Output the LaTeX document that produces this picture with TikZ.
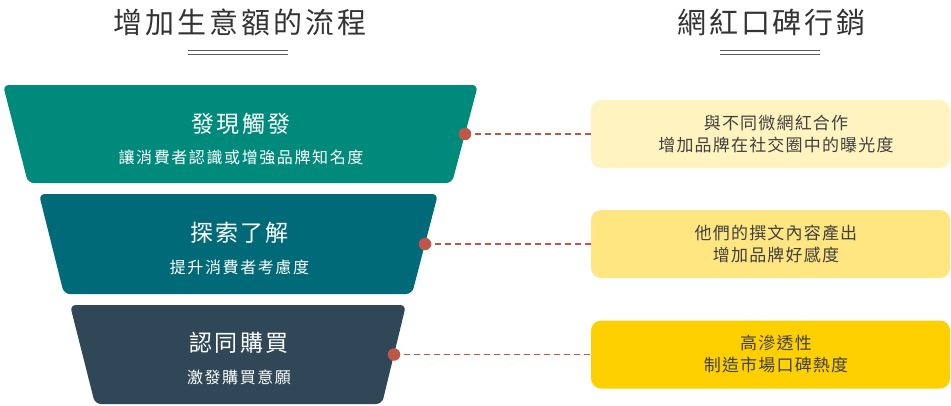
\documentclass[tikz,border=0pt]{standalone}
\usepackage{fontspec}
\newfontfamily\cjk[LetterSpace=7]{Noto Sans CJK TC}
\newfontfamily\cjkwide[LetterSpace=10]{Noto Sans CJK TC}
\usetikzlibrary{positioning}
\definecolor{stageA}{RGB}{0,138,124}
\definecolor{stageB}{RGB}{0,106,120}
\definecolor{stageC}{RGB}{48,71,87}
\definecolor{dotred}{RGB}{192,86,72}
\definecolor{noteA}{RGB}{255,243,191}
\definecolor{noteB}{RGB}{255,230,128}
\definecolor{noteC}{RGB}{255,208,0}
\definecolor{inkgray}{RGB}{64,64,64}
\definecolor{headgray}{RGB}{51,51,51}
\newcommand{\noteindent}{\hspace*{11pt}}

\begin{document}
\begin{tikzpicture}[x=1pt, y=-1pt, every node/.style={inner sep=0pt},
  head/.style={font=\cjkwide\fontsize{29}{29}\selectfont, text=headgray},
  rule/.style={draw=headgray!80, line width=0.9pt},
  stage/.style={font=\cjkwide\fontsize{23}{23}\selectfont, text=white},
  stagesub/.style={font=\cjkwide\fontsize{16}{16}\selectfont, text=white},
  note/.style={rounded corners=10pt, minimum width=359pt, minimum height=68pt, align=center,
    font=\cjk\fontsize{17}{22}\selectfont, text=inkgray},
  dot/.style={circle, fill=dotred, minimum size=12.5pt},
  link/.style={dotred, line width=1.4pt, dash pattern=on 6pt off 4pt}]
\useasboundingbox (0,0) rectangle (951,405);
% titles
\node[head] (lefthead) at (240,22) {增加生意額的流程};
\node[head] (righthead) at (771.5,22) {網紅口碑行銷};
\draw[rule] (188,50) -- (288,50) (188,54) -- (288,54);
\draw[rule] (720,50) -- (820,50) (720,54) -- (820,54);
% funnel
\fill[stageA, rounded corners=6pt] (3,85) -- (478,85) -- (452,183) -- (28,183) -- cycle;
\fill[stageB, rounded corners=6pt] (39,194) -- (438,194) -- (412,294) -- (64,294) -- cycle;
\fill[stageC, rounded corners=6pt] (70,305) -- (406,305) -- (382,404) -- (95,404) -- cycle;
\node[stage] (s1) at (241,124) {發現觸發};
\node[stagesub] (s1sub) at (241,157) {讓消費者認識或增強品牌知名度};
\node[stage] (s2) at (239.5,233) {探索了解};
\node[stagesub] (s2sub) at (239.5,267) {提升消費者考慮度};
\node[stage] (s3) at (239,343) {認同購買};
\node[stagesub] (s3sub) at (239,377) {激發購買意願};
% notes
\node[note, fill=noteA] (n1) at (770.5,134) {\noteindent 與不同微網紅合作\\\noteindent 增加品牌在社交圈中的曝光度};
\node[note, fill=noteB] (n2) at (770.5,244) {\noteindent 他們的撰文內容產出\\\noteindent 增加品牌好感度};
\node[note, fill=noteC] (n3) at (770.5,354.5) {\noteindent 高滲透性\\\noteindent 制造市場口碑熱度};
\coordinate (d1) at (465,134); \coordinate (d2) at (425,244); \coordinate (d3) at (394,354.5);
\draw[link] (d1) -- (n1.west); \draw[link] (d2) -- (n2.west); \draw[link] (d3) -- (n3.west);
\node[dot] at (d1) {}; \node[dot] at (d2) {}; \node[dot] at (d3) {};
\end{tikzpicture}
\end{document}
